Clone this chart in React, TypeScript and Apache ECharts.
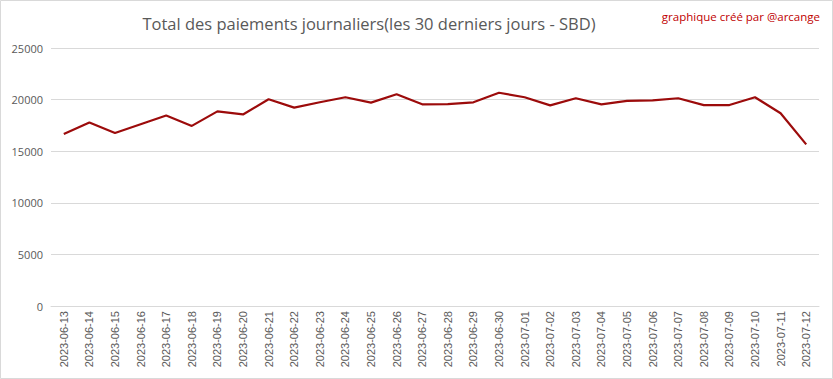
import React, { useEffect, useRef } from "react";
import * as echarts from "echarts";

const dates = [
  "2023-06-13", "2023-06-14", "2023-06-15", "2023-06-16", "2023-06-17",
  "2023-06-18", "2023-06-19", "2023-06-20", "2023-06-21", "2023-06-22",
  "2023-06-23", "2023-06-24", "2023-06-25", "2023-06-26", "2023-06-27",
  "2023-06-28", "2023-06-29", "2023-06-30", "2023-07-01", "2023-07-02",
  "2023-07-03", "2023-07-04", "2023-07-05", "2023-07-06", "2023-07-07",
  "2023-07-08", "2023-07-09", "2023-07-10", "2023-07-11", "2023-07-12",
];

const payments = [
  16670, 17780, 16760, 17610, 18460, 17450, 18860, 18560, 20030, 19220,
  19740, 20230, 19710, 20520, 19540, 19570, 19740, 20660, 20230, 19440,
  20130, 19540, 19870, 19930, 20130, 19470, 19470, 20230, 18680, 15660,
];

const titleText = "Total des paiements journaliers(les 30 derniers jours - SBD)";
const creditText = "graphique créé par @arcange";

export default function App() {
  const ref = useRef<HTMLDivElement>(null);
  useEffect(() => {
    document.body.style.margin = "0";
    const chart = echarts.init(ref.current!, undefined, { renderer: "svg" });
    chart.setOption({
      animation: false,
      backgroundColor: "#ffffff",
      textStyle: { fontFamily: "Open Sans" },
      title: {
        text: titleText,
        left: 364,
        top: 10,
        textAlign: "center",
        textStyle: { fontSize: 16.5, fontWeight: "normal", color: "#595959", fontFamily: "Open Sans" },
      },
      graphic: [
        {
          type: "rect",
          shape: { x: 0.5, y: 0.5, width: 832, height: 378 },
          style: { fill: "none", stroke: "#d9d9d9", lineWidth: 1 },
          silent: true,
        },
        {
          type: "text",
          right: 13,
          top: 10,
          style: { text: creditText, fill: "#c00000", fontSize: 11.5, fontFamily: "Open Sans" },
        },
      ],
      grid: { left: 51, right: 14, top: 48, bottom: 73, containLabel: false },
      xAxis: {
        type: "category",
        data: dates,
        boundaryGap: true,
        axisLine: { show: true, lineStyle: { color: "#d9d9d9", width: 1 } },
        axisTick: { show: false },
        axisLabel: {
          rotate: 90,
          interval: 0,
          color: "#595959",
          fontSize: 11,
          margin: 5,
          fontFamily: "Liberation Sans",
        },
      },
      yAxis: {
        type: "value",
        min: 0,
        max: 25000,
        interval: 5000,
        axisLine: { show: false },
        axisTick: { show: false },
        axisLabel: {
          color: "#595959",
          fontSize: 11,
          margin: 8,
          fontFamily: "Open Sans",
          formatter: (v: number) => String(v),
        },
        splitLine: { lineStyle: { color: "#d9d9d9", width: 1 } },
      },
      series: [
        {
          type: "line",
          data: payments,
          symbol: "none",
          lineStyle: { color: "#9c0b0b", width: 2.2 },
          itemStyle: { color: "#9c0b0b" },
        },
      ],
    });
    return () => chart.dispose();
  }, []);
  return <div ref={ref} style={{ width: 833, height: 379, position: "absolute", left: 0, top: 0 }} />;
}
